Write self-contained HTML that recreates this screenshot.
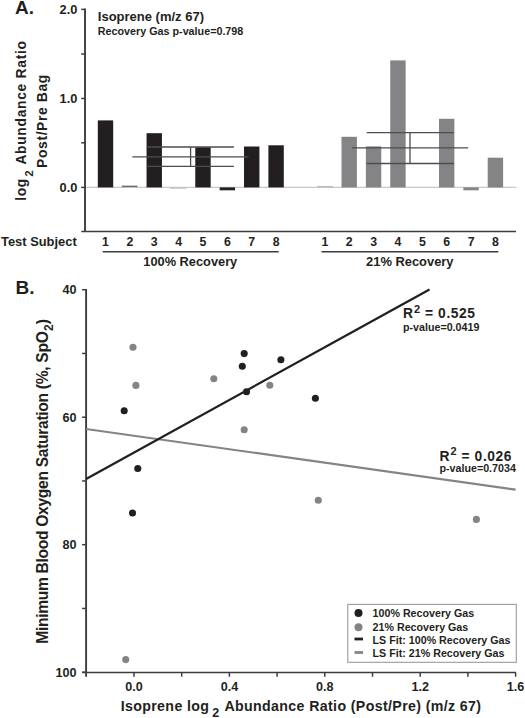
<!DOCTYPE html>
<html><head><meta charset="utf-8"><style>
html,body{margin:0;padding:0;background:#fff;width:525px;height:718px;overflow:hidden}
svg{display:block}
text{font-family:"Liberation Sans",sans-serif;font-weight:bold}
</style></head><body>
<svg width="525" height="718" viewBox="0 0 525 718">
<line x1="85" y1="187.4" x2="516.5" y2="187.4" stroke="#c9c9c9" stroke-width="1.1"/>
<rect x="97.80" y="120.40" width="15.4" height="67.00" fill="#231f20"/>
<rect x="146.54" y="133.20" width="15.4" height="54.20" fill="#231f20"/>
<rect x="195.28" y="147.20" width="15.4" height="40.20" fill="#231f20"/>
<rect x="219.65" y="187.40" width="15.4" height="2.90" fill="#231f20"/>
<rect x="244.02" y="146.50" width="15.4" height="40.90" fill="#231f20"/>
<rect x="268.39" y="145.30" width="15.4" height="42.10" fill="#231f20"/>
<rect x="341.50" y="136.80" width="15.4" height="50.60" fill="#848487"/>
<rect x="365.87" y="146.40" width="15.4" height="41.00" fill="#848487"/>
<rect x="390.24" y="60.40" width="15.4" height="127.00" fill="#848487"/>
<rect x="438.98" y="118.80" width="15.4" height="68.60" fill="#848487"/>
<rect x="463.35" y="187.40" width="15.4" height="2.90" fill="#848487"/>
<rect x="487.72" y="157.70" width="15.4" height="29.70" fill="#848487"/>
<rect x="121.8" y="185.6" width="15.6" height="1.5" fill="#707070"/>
<rect x="170.2" y="187.6" width="16.2" height="1.2" fill="#c4c4c4"/>
<rect x="317" y="186" width="16" height="1.3" fill="#bdbdbd"/>
<g stroke="#4d4d4f" stroke-width="1.3" fill="none"><line x1="146.8" y1="147" x2="233.9" y2="147"/><line x1="132.4" y1="156.8" x2="248.5" y2="156.8"/><line x1="146.8" y1="166.4" x2="233.9" y2="166.4"/><line x1="190.6" y1="147" x2="190.6" y2="166.4"/><line x1="366.7" y1="132.6" x2="453.8" y2="132.6"/><line x1="352" y1="147.8" x2="468.2" y2="147.8"/><line x1="366.7" y1="163.5" x2="453.8" y2="163.5"/><line x1="410" y1="132.6" x2="410" y2="163.5"/></g>
<g stroke="#3d3d3f" stroke-width="1.9" fill="none"><line x1="85" y1="8.6" x2="85" y2="231.5"/><line x1="81.3" y1="231.5" x2="516" y2="231.5" stroke-width="1.6"/><line x1="81.2" y1="9.4" x2="85" y2="9.4" stroke-width="1.5"/><line x1="81.2" y1="54" x2="85" y2="54" stroke-width="1.5"/><line x1="81.2" y1="98.5" x2="85" y2="98.5" stroke-width="1.5"/><line x1="81.2" y1="142.8" x2="85" y2="142.8" stroke-width="1.5"/><line x1="81.2" y1="187.4" x2="85" y2="187.4" stroke-width="1.5"/><line x1="102.7" y1="251.8" x2="278.7" y2="251.8" stroke-width="1.6"/><line x1="321.5" y1="251.8" x2="498.3" y2="251.8" stroke-width="1.6"/></g>
<text x="15" y="14.3" font-size="19" text-anchor="start" fill="#231f20" >A.</text>
<text x="77.4" y="13.8" font-size="12.8" text-anchor="end" fill="#231f20" >2.0</text>
<text x="77.4" y="102.9" font-size="12.8" text-anchor="end" fill="#231f20" >1.0</text>
<text x="77.4" y="191.8" font-size="12.8" text-anchor="end" fill="#231f20" >0.0</text>
<text x="97.8" y="20.7" font-size="13" text-anchor="start" fill="#231f20" >Isoprene (m/z 67)</text>
<text x="97.8" y="34.9" font-size="10.75" text-anchor="start" fill="#231f20" >Recovery Gas p-value=0.798</text>
<text x="1" y="245.5" font-size="12.9" text-anchor="start" fill="#231f20" >Test Subject</text>
<text x="105.50" y="246" font-size="12.3" text-anchor="middle" fill="#231f20" >1</text>
<text x="324.83" y="246" font-size="12.3" text-anchor="middle" fill="#231f20" >1</text>
<text x="129.87" y="246" font-size="12.3" text-anchor="middle" fill="#231f20" >2</text>
<text x="349.20" y="246" font-size="12.3" text-anchor="middle" fill="#231f20" >2</text>
<text x="154.24" y="246" font-size="12.3" text-anchor="middle" fill="#231f20" >3</text>
<text x="373.57" y="246" font-size="12.3" text-anchor="middle" fill="#231f20" >3</text>
<text x="178.61" y="246" font-size="12.3" text-anchor="middle" fill="#231f20" >4</text>
<text x="397.94" y="246" font-size="12.3" text-anchor="middle" fill="#231f20" >4</text>
<text x="202.98" y="246" font-size="12.3" text-anchor="middle" fill="#231f20" >5</text>
<text x="422.31" y="246" font-size="12.3" text-anchor="middle" fill="#231f20" >5</text>
<text x="227.35" y="246" font-size="12.3" text-anchor="middle" fill="#231f20" >6</text>
<text x="446.68" y="246" font-size="12.3" text-anchor="middle" fill="#231f20" >6</text>
<text x="251.72" y="246" font-size="12.3" text-anchor="middle" fill="#231f20" >7</text>
<text x="471.05" y="246" font-size="12.3" text-anchor="middle" fill="#231f20" >7</text>
<text x="276.09" y="246" font-size="12.3" text-anchor="middle" fill="#231f20" >8</text>
<text x="495.42" y="246" font-size="12.3" text-anchor="middle" fill="#231f20" >8</text>
<text x="190.3" y="265.5" font-size="12.8" text-anchor="middle" fill="#231f20" >100% Recovery</text>
<text x="409.8" y="265.5" font-size="12.9" text-anchor="middle" fill="#231f20" >21% Recovery</text>
<text transform="translate(25.8,120.6) rotate(-90)" font-size="13.8" letter-spacing="0.72" text-anchor="middle" fill="#231f20">log<tspan font-size="11" dx="1.5" dy="7.5">2</tspan><tspan dy="-7.5" dx="1"> Abundance Ratio</tspan></text>
<text transform="translate(46.6,121) rotate(-90)" font-size="13.9" letter-spacing="0.62" text-anchor="middle" fill="#231f20">Post/Pre Bag</text>
<g stroke="#3d3d3f" stroke-width="1.9" fill="none"><line x1="86.1" y1="289" x2="86.1" y2="676.7"/><line x1="82.1" y1="672.5" x2="516" y2="672.5" stroke-width="1.6"/><line x1="82.1" y1="289.70" x2="86.1" y2="289.70" stroke-width="1.5"/><line x1="82.1" y1="353.45" x2="86.1" y2="353.45" stroke-width="1.5"/><line x1="82.1" y1="417.20" x2="86.1" y2="417.20" stroke-width="1.5"/><line x1="82.1" y1="480.95" x2="86.1" y2="480.95" stroke-width="1.5"/><line x1="82.1" y1="544.70" x2="86.1" y2="544.70" stroke-width="1.5"/><line x1="82.1" y1="608.45" x2="86.1" y2="608.45" stroke-width="1.5"/><line x1="82.1" y1="672.20" x2="86.1" y2="672.20" stroke-width="1.5"/><line x1="134.00" y1="672.5" x2="134.00" y2="676.7" stroke-width="1.5"/><line x1="181.70" y1="672.5" x2="181.70" y2="676.7" stroke-width="1.5"/><line x1="229.40" y1="672.5" x2="229.40" y2="676.7" stroke-width="1.5"/><line x1="277.10" y1="672.5" x2="277.10" y2="676.7" stroke-width="1.5"/><line x1="324.80" y1="672.5" x2="324.80" y2="676.7" stroke-width="1.5"/><line x1="372.50" y1="672.5" x2="372.50" y2="676.7" stroke-width="1.5"/><line x1="420.20" y1="672.5" x2="420.20" y2="676.7" stroke-width="1.5"/><line x1="467.90" y1="672.5" x2="467.90" y2="676.7" stroke-width="1.5"/><line x1="515.60" y1="672.5" x2="515.60" y2="676.7" stroke-width="1.5"/></g>
<text x="15.5" y="294.2" font-size="19" text-anchor="start" fill="#231f20" >B.</text>
<text x="76.6" y="294.20" font-size="12.6" text-anchor="end" fill="#231f20" >40</text>
<text x="76.6" y="421.70" font-size="12.6" text-anchor="end" fill="#231f20" >60</text>
<text x="76.6" y="549.20" font-size="12.6" text-anchor="end" fill="#231f20" >80</text>
<text x="76.6" y="676.70" font-size="12.6" text-anchor="end" fill="#231f20" >100</text>
<text x="134.00" y="690.8" font-size="12.6" text-anchor="middle" fill="#231f20" >0.0</text>
<text x="229.40" y="690.8" font-size="12.6" text-anchor="middle" fill="#231f20" >0.4</text>
<text x="324.80" y="690.8" font-size="12.6" text-anchor="middle" fill="#231f20" >0.8</text>
<text x="420.20" y="690.8" font-size="12.6" text-anchor="middle" fill="#231f20" >1.2</text>
<text x="515.60" y="690.8" font-size="12.6" text-anchor="middle" fill="#231f20" >1.6</text>
<line x1="86.1" y1="429" x2="515.6" y2="489.7" stroke="#848487" stroke-width="2.2"/>
<line x1="86.1" y1="478.9" x2="429.5" y2="289.5" stroke="#231f20" stroke-width="2.3"/>
<circle cx="133" cy="347.2" r="3.55" fill="#848487"/>
<circle cx="135.9" cy="385.4" r="3.55" fill="#848487"/>
<circle cx="213.8" cy="378.8" r="3.55" fill="#848487"/>
<circle cx="244.2" cy="429.8" r="3.55" fill="#848487"/>
<circle cx="269.8" cy="385.2" r="3.55" fill="#848487"/>
<circle cx="125.7" cy="659.6" r="3.55" fill="#848487"/>
<circle cx="318.3" cy="500.2" r="3.55" fill="#848487"/>
<circle cx="476.4" cy="519.4" r="3.55" fill="#848487"/>
<circle cx="124.2" cy="410.8" r="3.55" fill="#231f20"/>
<circle cx="137.8" cy="468.5" r="3.55" fill="#231f20"/>
<circle cx="132.5" cy="513" r="3.55" fill="#231f20"/>
<circle cx="244.2" cy="353.6" r="3.55" fill="#231f20"/>
<circle cx="242.3" cy="366.3" r="3.55" fill="#231f20"/>
<circle cx="246.5" cy="391.7" r="3.55" fill="#231f20"/>
<circle cx="280.9" cy="359.8" r="3.55" fill="#231f20"/>
<circle cx="315.4" cy="398.2" r="3.55" fill="#231f20"/>
<text x="403" y="318.4" font-size="13.8" letter-spacing="0.6" fill="#231f20">R<tspan font-size="11" dx="0.3" dy="-5.5">2</tspan><tspan dy="5.5"> = 0.525</tspan></text>
<text x="403" y="331" font-size="10.7" text-anchor="start" fill="#231f20" >p-value=0.0419</text>
<text x="439.5" y="460.6" font-size="13.8" letter-spacing="0.6" fill="#231f20">R<tspan font-size="11" dx="0.3" dy="-5.5">2</tspan><tspan dy="5.5"> = 0.026</tspan></text>
<text x="439.5" y="472.2" font-size="10.7" text-anchor="start" fill="#231f20" >p-value=0.7034</text>
<rect x="347.8" y="604.4" width="168.5" height="57.9" fill="#fff" stroke="#9a9a9c" stroke-width="1.1"/>
<circle cx="358.5" cy="613.1" r="4" fill="#231f20"/>
<circle cx="358.5" cy="627.2" r="4" fill="#848487"/>
<rect x="354.5" y="637.6" width="8.5" height="2.8" fill="#231f20"/>
<rect x="354.5" y="651.1" width="8.5" height="2.8" fill="#848487"/>
<text x="372.6" y="617.20" font-size="10.7" text-anchor="start" fill="#231f20" >100% Recovery Gas</text>
<text x="372.6" y="630.55" font-size="10.7" text-anchor="start" fill="#231f20" >21% Recovery Gas</text>
<text x="372.6" y="643.90" font-size="10.7" text-anchor="start" fill="#231f20" >LS Fit: 100% Recovery Gas</text>
<text x="372.6" y="657.25" font-size="10.7" text-anchor="start" fill="#231f20" >LS Fit: 21% Recovery Gas</text>
<text transform="translate(47.6,481.6) rotate(-90)" font-size="15.6" letter-spacing="-0.3" text-anchor="middle" fill="#231f20">Minimum Blood Oxygen Saturation (%, SpO<tspan font-size="12" dy="5" dx="0.5">2</tspan><tspan dy="-5" dx="0.3">)</tspan></text>
<text x="301" y="710.5" font-size="14.2" letter-spacing="0.36" text-anchor="middle" fill="#231f20">Isoprene log<tspan font-size="12.5" dx="3" dy="6.5">2</tspan><tspan dy="-6.5" dx="1"> Abundance Ratio (Post/Pre) (m/z 67)</tspan></text>
</svg>
</body></html>
